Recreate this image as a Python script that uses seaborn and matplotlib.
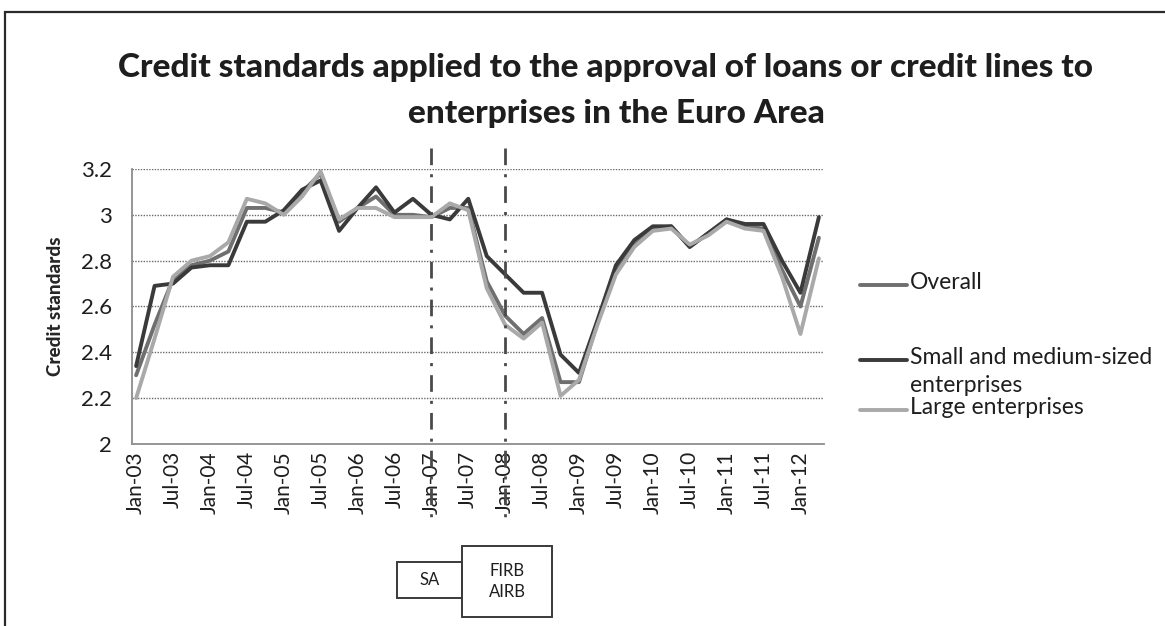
import matplotlib
matplotlib.use("Agg")
import matplotlib.pyplot as plt
import matplotlib.transforms as mtransforms
from matplotlib.lines import Line2D
from matplotlib.patches import Rectangle
from matplotlib.ticker import FuncFormatter
import seaborn as sns
import pandas as pd

# Quarterly survey readings, 2003Q1 - 2012Q2
quarters = [
    "Jan-03", "Apr-03", "Jul-03", "Oct-03", "Jan-04", "Apr-04", "Jul-04", "Oct-04",
    "Jan-05", "Apr-05", "Jul-05", "Oct-05", "Jan-06", "Apr-06", "Jul-06", "Oct-06",
    "Jan-07", "Apr-07", "Jul-07", "Oct-07", "Jan-08", "Apr-08", "Jul-08", "Oct-08",
    "Jan-09", "Apr-09", "Jul-09", "Oct-09", "Jan-10", "Apr-10", "Jul-10", "Oct-10",
    "Jan-11", "Apr-11", "Jul-11", "Oct-11", "Jan-12", "Apr-12",
]
overall = [
    2.30, 2.52, 2.72, 2.78, 2.80, 2.84, 3.03, 3.03,
    3.01, 3.10, 3.18, 2.97, 3.03, 3.08, 3.00, 3.00,
    2.99, 3.03, 3.03, 2.71, 2.56, 2.48, 2.55, 2.27,
    2.27, 2.53, 2.76, 2.88, 2.94, 2.95, 2.86, 2.92,
    2.98, 2.95, 2.94, 2.76, 2.60, 2.90,
]
sme = [
    2.34, 2.69, 2.70, 2.77, 2.78, 2.78, 2.97, 2.97,
    3.02, 3.11, 3.15, 2.93, 3.03, 3.12, 3.01, 3.07,
    3.00, 2.98, 3.07, 2.82, 2.74, 2.66, 2.66, 2.39,
    2.31, 2.54, 2.78, 2.89, 2.95, 2.95, 2.86, 2.92,
    2.98, 2.96, 2.96, 2.80, 2.66, 2.99,
]
large = [
    2.20, 2.46, 2.73, 2.80, 2.82, 2.88, 3.07, 3.05,
    3.00, 3.08, 3.19, 2.98, 3.03, 3.03, 2.99, 2.99,
    2.99, 3.05, 3.02, 2.68, 2.52, 2.46, 2.53, 2.21,
    2.28, 2.52, 2.74, 2.86, 2.93, 2.94, 2.87, 2.91,
    2.97, 2.94, 2.93, 2.73, 2.48, 2.81,
]
series_names = ["Overall", "Small and medium-sized\nenterprises", "Large enterprises"]
series_colors = ["#6f6f6f", "#3a3a3a", "#a9a9a9"]
y_ticks = [2.0, 2.2, 2.4, 2.6, 2.8, 3.0, 3.2]
regime_starts = ["Jan-07", "Jan-08"]
regime_labels = ["SA", "FIRB\nAIRB"]

W, H = 1165, 626

sns.set_style("white")
plt.rcParams["font.family"] = ["Lato", "DejaVu Sans"]
plt.rcParams["lines.scale_dashes"] = False
plt.rcParams["text.color"] = "#1e1e1e"

rows = []
for name, vals in zip(series_names, [overall, sme, large]):
    for i, v in enumerate(vals):
        rows.append({"idx": i, "value": v, "series": name})
df = pd.DataFrame(rows)

fig = plt.figure(figsize=(W / 100, H / 100), dpi=100)
ax = fig.add_axes([131.5 / W, 1 - 444 / H, 692 / W, 275 / H])

sns.lineplot(data=df, x="idx", y="value", hue="series", hue_order=series_names,
             palette=dict(zip(series_names, series_colors)), linewidth=2.8,
             legend=False, sort=False, ax=ax)

n = len(quarters)
ax.set_xlim(-0.25, n - 1 + 0.25)
ax.set_ylim(y_ticks[0], y_ticks[-1])
ax.set_yticks(y_ticks)
ax.yaxis.set_major_formatter(FuncFormatter(lambda v, p: f"{v:g}"))
ax.set_xticks(range(0, n, 2))
ax.set_xticklabels(quarters[::2], rotation=90, fontsize=15)
ax.tick_params(axis="y", labelsize=16, length=0, pad=14, labelcolor="#1e1e1e")
ax.tick_params(axis="x", length=0, pad=5, labelcolor="#1e1e1e")
ax.set_xlabel("")
ax.set_ylabel("Credit standards", fontsize=13.5, fontweight="black", labelpad=12)

for yv in y_ticks[1:]:
    ax.axhline(yv, color="#6a6a6a", lw=1.0, ls=(0, (1, 1)), zorder=0)
for side in ["top", "right"]:
    ax.spines[side].set_visible(False)
for side in ["left", "bottom"]:
    ax.spines[side].set_color("#8c8c8c")
    ax.spines[side].set_linewidth(1.3)

# regime change markers spanning from under the title through the tick labels
blend = mtransforms.blended_transform_factory(ax.transData, fig.transFigure)
for lab in regime_starts:
    xi = quarters.index(lab)
    ax.plot([xi, xi], [1 - 148 / H, 1 - 525 / H], transform=blend, clip_on=False,
            color="#4a4a4a", lw=2.0, ls=(0, (12, 6.5, 2.2, 6.5)), zorder=5)

# approach boxes
boxes = [(397, 562, 462, 598), (462, 546, 552, 617)]
for (x0, y0, x1, y1), text in zip(boxes, regime_labels):
    fig.add_artist(Rectangle((x0 / W, 1 - y1 / H), (x1 - x0) / W, (y1 - y0) / H,
                             transform=fig.transFigure, fill=False,
                             ec="#3a3a3a", lw=1.4))
    fig.text((x0 + x1) / 2 / W, 1 - (y0 + y1) / 2 / H, text, ha="center", va="center",
             fontsize=12, linespacing=1.45)

# legend entries
legend_y = [285, 360, 410]
for name, col, yy in zip(series_names, series_colors, legend_y):
    fig.add_artist(Line2D([860 / W, 907 / W], [1 - yy / H, 1 - yy / H],
                          transform=fig.transFigure, color=col, lw=2.8))
    fig.text(910 / W, 1 - (yy - 13) / H, name, ha="left", va="top", fontsize=16.5,
             linespacing=1.4)

# title
fig.text(606 / W, 1 - 67 / H,
         "Credit standards applied to the approval of loans or credit lines to",
         ha="center", va="center", fontsize=24, fontweight="black")
fig.text(616 / W, 1 - 113 / H, "enterprises in the Euro Area",
         ha="center", va="center", fontsize=24, fontweight="black")

# outer chart frame
fig.add_artist(Rectangle((5 / W, -0.1), 1.2, 1.1 - 12 / H, transform=fig.transFigure,
                         fill=False, ec="#2a2a2a", lw=1.6))

fig.savefig("out.png", dpi=100)
